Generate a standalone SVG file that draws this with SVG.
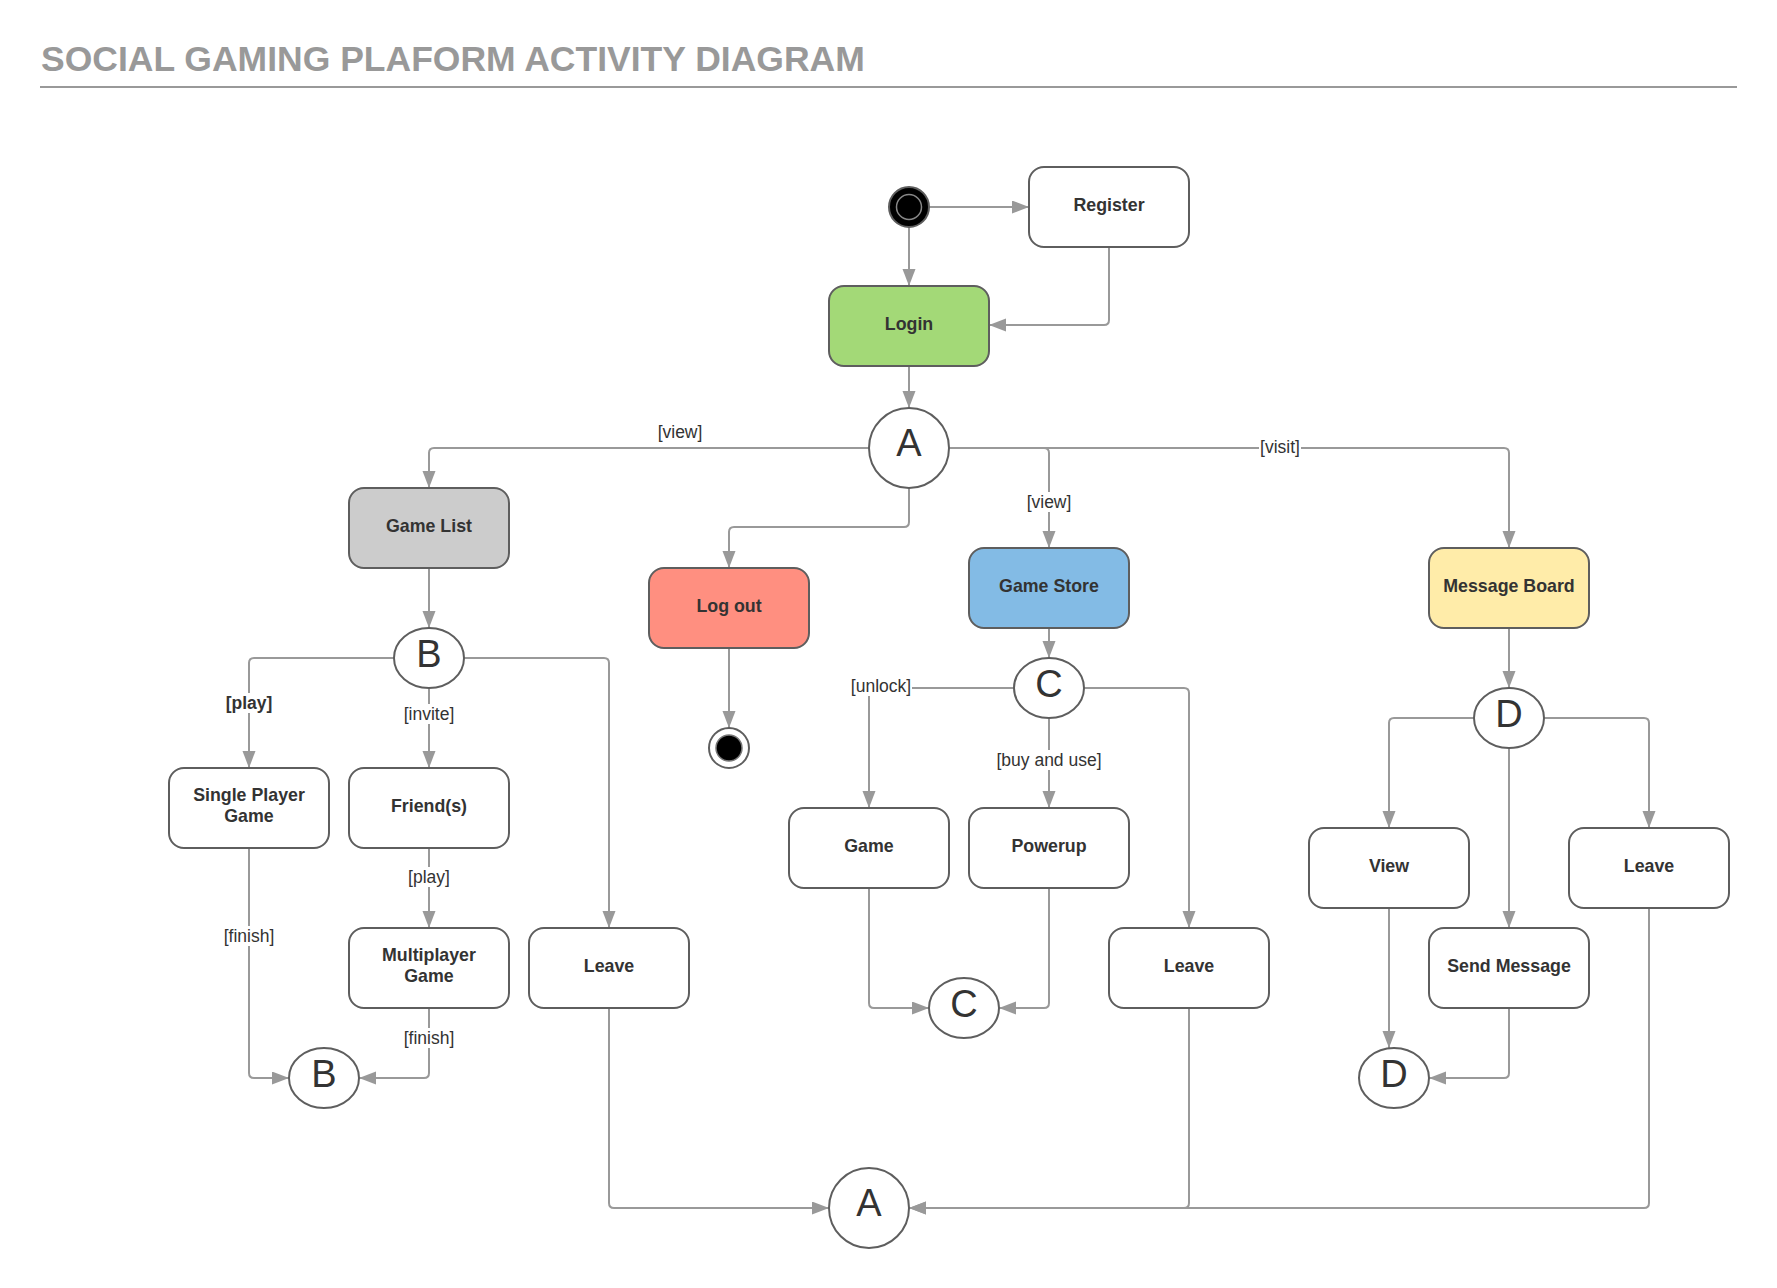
<svg xmlns="http://www.w3.org/2000/svg" width="1777" height="1288" viewBox="0 0 1777 1288">
<style>
.node{stroke:#5e5e5e;stroke-width:2}
.box{font-family:"Liberation Sans",Arial,sans-serif;font-weight:bold;font-size:17.8px;fill:#333;text-anchor:middle}
.big{font-family:"Liberation Sans",Arial,sans-serif;font-size:38px;fill:#333;text-anchor:middle}
.lbl{font-family:"Liberation Sans",Arial,sans-serif;font-size:17.5px;fill:#333;text-anchor:middle}
.conn path{fill:none;stroke:#999;stroke-width:2;marker-end:url(#arr)}
.bg{fill:#fff}
</style>
<defs>
<marker id="arr" markerUnits="userSpaceOnUse" markerWidth="18" markerHeight="14" refX="17" refY="6.5" orient="auto">
<path d="M0,0 L17,6.5 L0,13 z" fill="#999"/>
</marker>
</defs>
<rect width="1777" height="1288" fill="#fff"/>
<text x="41" y="71" font-family="Liberation Sans,Arial,sans-serif" font-weight="bold" font-size="35.5" fill="#999">SOCIAL GAMING PLAFORM ACTIVITY DIAGRAM</text>
<line x1="40" y1="87" x2="1737" y2="87" stroke="#999" stroke-width="2"/>

<g id="connectors" class="conn">
<path d="M929,207 H1029"/>
<path d="M909,227 V286"/>
<path d="M1109,247 V320 Q1109,325 1104,325 H989"/>
<path d="M909,366 V408"/>
<path d="M869,448 H434 Q429,448 429,453 V488"/>
<path d="M909,488 V522 Q909,527 904,527 H734 Q729,527 729,532 V568"/>
<path d="M949,448 H1044 Q1049,448 1049,453 V548"/>
<path d="M949,448 H1504 Q1509,448 1509,453 V548"/>
<path d="M429,568 V628"/>
<path d="M394,658 H254 Q249,658 249,663 V768"/>
<path d="M429,688 V768"/>
<path d="M464,658 H604 Q609,658 609,663 V928"/>
<path d="M429,848 V928"/>
<path d="M249,848 V1073 Q249,1078 254,1078 H289"/>
<path d="M429,1008 V1073 Q429,1078 424,1078 H359"/>
<path d="M609,1008 V1203 Q609,1208 614,1208 H829"/>
<path d="M729,648 V728"/>
<path d="M1049,628 V658"/>
<path d="M1014,688 H874 Q869,688 869,693 V808"/>
<path d="M1049,718 V808"/>
<path d="M1084,688 H1184 Q1189,688 1189,693 V928"/>
<path d="M869,888 V1003 Q869,1008 874,1008 H929"/>
<path d="M1049,888 V1003 Q1049,1008 1044,1008 H999"/>
<path d="M1189,1008 V1203 Q1189,1208 1184,1208 H909"/>
<path d="M1509,628 V688"/>
<path d="M1474,718 H1394 Q1389,718 1389,723 V828"/>
<path d="M1509,748 V928"/>
<path d="M1544,718 H1644 Q1649,718 1649,723 V828"/>
<path d="M1389,908 V1048"/>
<path d="M1509,1008 V1073 Q1509,1078 1504,1078 H1429"/>
<path d="M1649,908 V1203 Q1649,1208 1644,1208 H909"/>
</g>

<g id="labels">
<text class="lbl" x="680" y="438">[view]</text>
<rect class="bg" x="1026" y="492" width="46" height="20"/>
<text class="lbl" x="1049" y="508">[view]</text>
<rect class="bg" x="1259" y="437" width="42" height="20"/>
<text class="lbl" x="1280" y="453">[visit]</text>
<rect class="bg" x="225" y="693" width="48" height="20"/>
<text class="lbl" x="249" y="709" font-weight="bold">[play]</text>
<rect class="bg" x="403" y="704" width="52" height="20"/>
<text class="lbl" x="429" y="720">[invite]</text>
<rect class="bg" x="407" y="867" width="44" height="20"/>
<text class="lbl" x="429" y="883">[play]</text>
<rect class="bg" x="223" y="926" width="52" height="20"/>
<text class="lbl" x="249" y="942">[finish]</text>
<rect class="bg" x="403" y="1028" width="52" height="20"/>
<text class="lbl" x="429" y="1044">[finish]</text>
<rect class="bg" x="850" y="676" width="62" height="20"/>
<text class="lbl" x="881" y="692">[unlock]</text>
<rect class="bg" x="995" y="750" width="108" height="20"/>
<text class="lbl" x="1049" y="766">[buy and use]</text>
</g>

<g id="start"><circle cx="909" cy="207" r="20" fill="#000" stroke="#5e5e5e" stroke-width="2"/><circle cx="909" cy="207" r="12.5" fill="none" stroke="#888" stroke-width="1.5"/></g>
<g id="register"><rect class="node" x="1029" y="167" width="160" height="80" rx="15" fill="#fff"/><text class="box" x="1109" y="211">Register</text></g>
<g id="login"><rect class="node" x="829" y="286" width="160" height="80" rx="15" fill="#a3d977"/><text class="box" x="909" y="330">Login</text></g>
<g id="a-top"><circle class="node" cx="909" cy="448" r="40" fill="#fff"/><text class="big" x="909" y="456">A</text></g>
<g id="game-list"><rect class="node" x="349" y="488" width="160" height="80" rx="15" fill="#cccccc"/><text class="box" x="429" y="532">Game List</text></g>
<g id="log-out"><rect class="node" x="649" y="568" width="160" height="80" rx="15" fill="#ff8f80"/><text class="box" x="729" y="612">Log out</text></g>
<g id="game-store"><rect class="node" x="969" y="548" width="160" height="80" rx="15" fill="#83bbe5"/><text class="box" x="1049" y="592">Game Store</text></g>
<g id="message-board"><rect class="node" x="1429" y="548" width="160" height="80" rx="15" fill="#ffeca9"/><text class="box" x="1509" y="592">Message Board</text></g>
<g id="b-top"><ellipse class="node" cx="429" cy="658" rx="35" ry="30" fill="#fff"/><text class="big" x="429" y="667">B</text></g>
<g id="end"><circle cx="729" cy="748" r="20" fill="#fff" stroke="#5e5e5e" stroke-width="2"/><circle cx="729" cy="748" r="13" fill="#000" stroke="#777" stroke-width="1.5"/></g>
<g id="c-top"><ellipse class="node" cx="1049" cy="688" rx="35" ry="30" fill="#fff"/><text class="big" x="1049" y="697">C</text></g>
<g id="d-top"><ellipse class="node" cx="1509" cy="718" rx="35" ry="30" fill="#fff"/><text class="big" x="1509" y="727">D</text></g>
<g id="single-player"><rect class="node" x="169" y="768" width="160" height="80" rx="15" fill="#fff"/><text class="box" x="249" y="801">Single Player</text><text class="box" x="249" y="822">Game</text></g>
<g id="friends"><rect class="node" x="349" y="768" width="160" height="80" rx="15" fill="#fff"/><text class="box" x="429" y="812">Friend(s)</text></g>
<g id="game"><rect class="node" x="789" y="808" width="160" height="80" rx="15" fill="#fff"/><text class="box" x="869" y="852">Game</text></g>
<g id="powerup"><rect class="node" x="969" y="808" width="160" height="80" rx="15" fill="#fff"/><text class="box" x="1049" y="852">Powerup</text></g>
<g id="view"><rect class="node" x="1309" y="828" width="160" height="80" rx="15" fill="#fff"/><text class="box" x="1389" y="872">View</text></g>
<g id="leave-board"><rect class="node" x="1569" y="828" width="160" height="80" rx="15" fill="#fff"/><text class="box" x="1649" y="872">Leave</text></g>
<g id="multiplayer"><rect class="node" x="349" y="928" width="160" height="80" rx="15" fill="#fff"/><text class="box" x="429" y="961">Multiplayer</text><text class="box" x="429" y="982">Game</text></g>
<g id="leave-list"><rect class="node" x="529" y="928" width="160" height="80" rx="15" fill="#fff"/><text class="box" x="609" y="972">Leave</text></g>
<g id="leave-store"><rect class="node" x="1109" y="928" width="160" height="80" rx="15" fill="#fff"/><text class="box" x="1189" y="972">Leave</text></g>
<g id="send-message"><rect class="node" x="1429" y="928" width="160" height="80" rx="15" fill="#fff"/><text class="box" x="1509" y="972">Send Message</text></g>
<g id="c-bottom"><ellipse class="node" cx="964" cy="1008" rx="35" ry="30" fill="#fff"/><text class="big" x="964" y="1017">C</text></g>
<g id="b-bottom"><ellipse class="node" cx="324" cy="1078" rx="35" ry="30" fill="#fff"/><text class="big" x="324" y="1087">B</text></g>
<g id="d-bottom"><ellipse class="node" cx="1394" cy="1078" rx="35" ry="30" fill="#fff"/><text class="big" x="1394" y="1087">D</text></g>
<g id="a-bottom"><circle class="node" cx="869" cy="1208" r="40" fill="#fff"/><text class="big" x="869" y="1216">A</text></g>
</svg>
